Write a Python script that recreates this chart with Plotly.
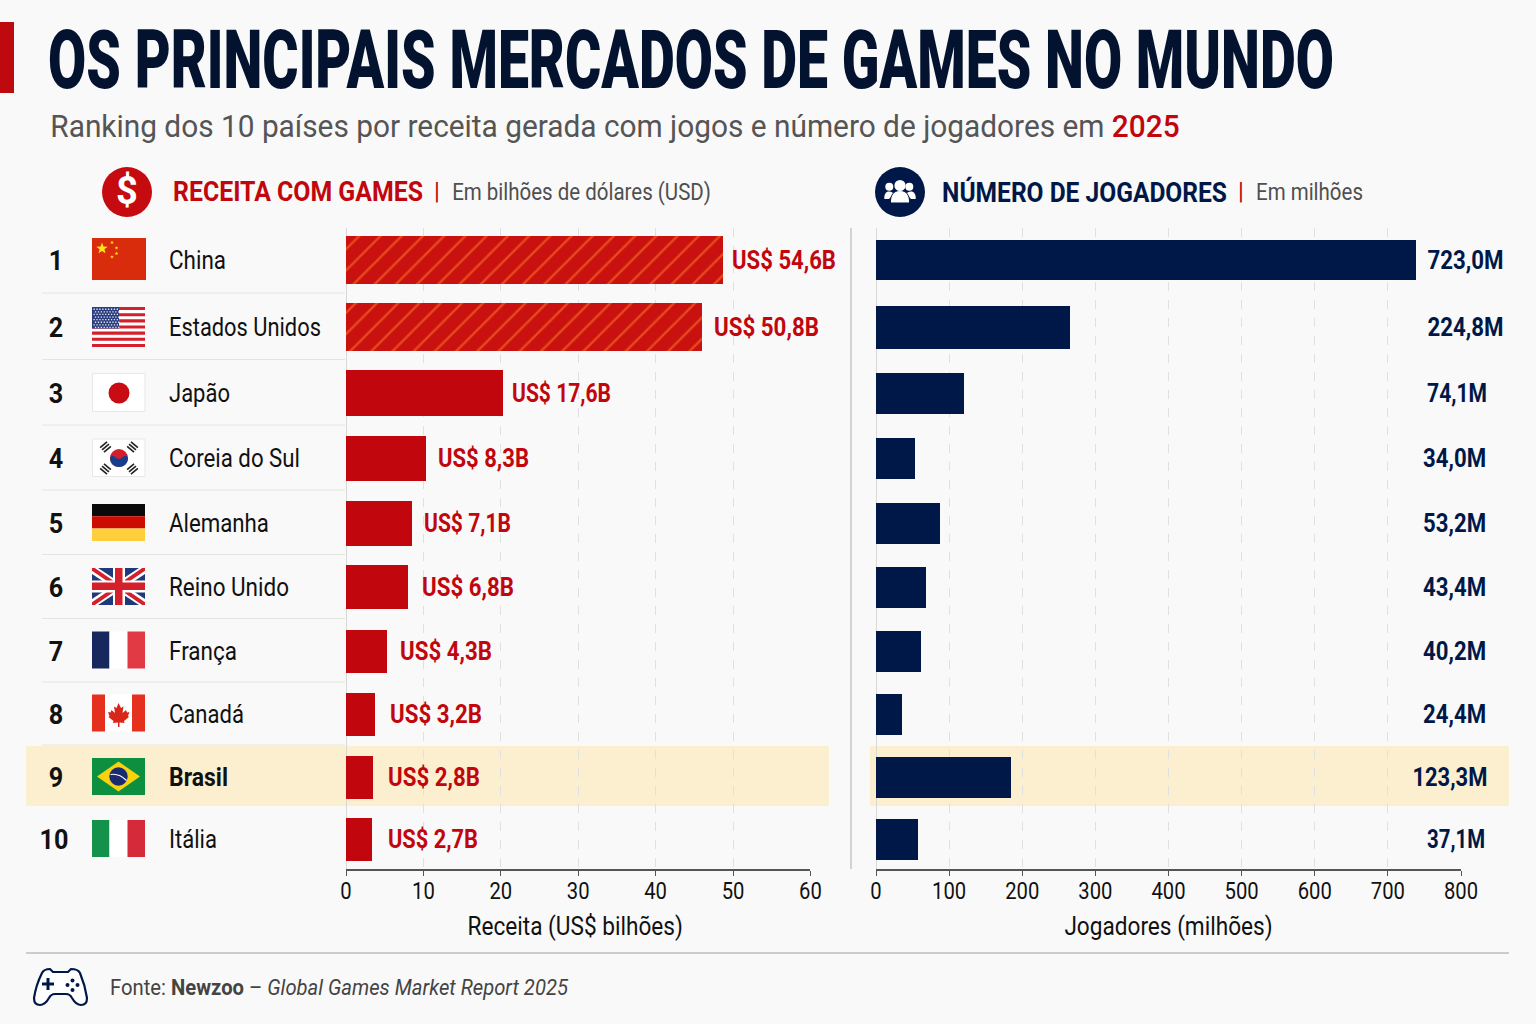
#!/usr/bin/env python3
import json
import math
import plotly.graph_objects as go

W, H = 1536, 1024
FONT = "Roboto"
RED = "#C1070D"
NAVY = "#001848"
GRAY = "#4F4F4F"
INK = "#111111"

ranks = ["1", "2", "3", "4", "5", "6", "7", "8", "9", "10"]
countries = ["China", "Estados Unidos", "Japão", "Coreia do Sul", "Alemanha",
             "Reino Unido", "França", "Canadá", "Brasil", "Itália"]
# bar lengths as drawn in the picture (they do not follow the printed labels)
revenue_bars = [48.7, 46.0, 20.3, 10.3, 8.5, 7.95, 5.36, 3.8, 3.5, 3.36]
players_bars = [739, 265, 120, 54, 88, 68, 62, 36, 184, 58]
revenue_labels = ["US$ 54,6B", "US$ 50,8B", "US$ 17,6B", "US$ 8,3B", "US$ 7,1B",
                  "US$ 6,8B", "US$ 4,3B", "US$ 3,2B", "US$ 2,8B", "US$ 2,7B"]
players_labels = ["723,0M", "224,8M", "74,1M", "34,0M", "53,2M",
                  "43,4M", "40,2M", "24,4M", "123,3M", "37,1M"]
revenue_ticks = [0, 10, 20, 30, 40, 50, 60]
players_ticks = [0, 100, 200, 300, 400, 500, 600, 700, 800]

# row geometry, in page pixels: the rows get slightly tighter going down
row_pitch = [67, 66, 65, 65, 64, 64, 63, 63, 62]
row_y = [260]
for step in row_pitch:
    row_y.append(row_y[-1] + step)
revenue_h = [48, 48, 46, 45, 45, 44, 43, 43, 43, 43]
players_h = [40, 43, 41, 41, 41, 41, 41, 41, 41, 41]
revenue_gap = [9, 12, 9, 12, 12, 14, 13, 15, 15, 16]
players_right = [1503, 1503, 1487, 1486, 1486, 1486, 1486, 1486, 1487, 1485]
# widths of the condensed labels, in page pixels
country_w = [57, 152, 61, 131, 100, 120, 68, 75, 59, 48]
revenue_w = [104, 105, 99, 91, 87, 92, 92, 92, 92, 90]
players_w = [76, 76, 60, 63, 63, 63, 63, 63, 75, 58]
BRASIL = countries.index("Brasil")

shapes = []
annotations = []
squeeze = []


def px(x):
    return x / W


def py(y):
    return 1 - y / H


def paper_path(d):
    out = []
    is_x = True
    for tok in d.split():
        if tok.isalpha():
            out.append(tok)
            is_x = True
        else:
            out.append(f"{px(float(tok)) if is_x else py(float(tok)):.5f}")
            is_x = not is_x
    return " ".join(out)


def rect(x0, y0, x1, y1, color, line=None):
    shapes.append(dict(type="rect", xref="paper", yref="paper", layer="below",
                       x0=px(x0), x1=px(x1), y0=py(y0), y1=py(y1), fillcolor=color,
                       line=dict(color=line or color, width=1 if line else 0)))


def circle(cx, cy, r, color, above=False):
    shapes.append(dict(type="circle", xref="paper", yref="paper", layer="above" if above else "below",
                       x0=px(cx - r), x1=px(cx + r), y0=py(cy + r), y1=py(cy - r),
                       fillcolor=color, line=dict(width=0)))


def path(d, fill=None, line=None, width=0):
    shapes.append(dict(type="path", xref="paper", yref="paper", layer="below", path=paper_path(d),
                       fillcolor=fill or "rgba(0,0,0,0)",
                       line=dict(color=line or "rgba(0,0,0,0)", width=width)))


def poly(points, color):
    d = "M " + " L ".join(f"{x} {y}" for x, y in points) + " Z"
    path(d, fill=color)


def hline(x0, x1, y, color, width=1, dash=None):
    shapes.append(dict(type="line", xref="paper", yref="paper", layer="below",
                       x0=px(x0), x1=px(x1), y0=py(y), y1=py(y), line=dict(color=color, width=width, dash=dash)))


def seg(x0, y0, x1, y1, color, width=1):
    shapes.append(dict(type="line", xref="paper", yref="paper", layer="below",
                       x0=px(x0), x1=px(x1), y0=py(y0), y1=py(y1), line=dict(color=color, width=width)))


def star(cx, cy, r, color):
    pts = []
    for k in range(10):
        rad = r if k % 2 == 0 else r * 0.42
        a = -math.pi / 2 + k * math.pi / 5
        pts.append((round(cx + rad * math.cos(a), 2), round(cy + rad * math.sin(a), 2)))
    poly(pts, color)


def label(text, x, y, size, color=INK, anchor="left", weight=400, fit=0.86, family=FONT,
          xref="paper", yref="paper", xshift=0):
    # fit: below 2 it is a width ratio, above that a width in pixels (applied in the page script)
    annotations.append(dict(text=text, x=px(x) if xref == "paper" else x, y=py(y) if yref == "paper" else y,
                            xref=xref, yref=yref, xanchor=anchor, yanchor="middle", showarrow=False, xshift=xshift,
                            borderpad=0, borderwidth=0,
                            font=dict(family=family, size=size, color=color, weight=weight)))
    squeeze.append(dict(fit=fit, anchor=anchor))


def flags():
    x0, x1 = 92, 145
    # China
    y = row_y[0]
    t, b = y - 22, y + 20
    rect(x0, t, x1 + 1, b, "#D92C0C")
    star(102, 248.5, 6, "#FFE11A")
    for sx, sy in [(112, 242.5), (116.5, 248), (116.5, 253.5), (112, 257)]:
        star(sx, sy, 2, "#FFE11A")
    # Estados Unidos
    t, b = row_y[1] - 20, row_y[1] + 20
    rect(x0, t, x1, b, "#FFFFFF")
    for k in range(0, 13, 2):
        rect(x0, t + k * 40 / 13, x1, t + (k + 1) * 40 / 13, "#D3202B")
    rect(x0, t, 119, t + 21.5, "#2B3F80")
    dots = []
    for r_ in range(8):
        for c_ in range(9):
            dx = 93.5 + c_ * 2.9 + (1.4 if r_ % 2 else 0)
            dy = t + 1.6 + r_ * 2.6
            dots.append(f"M {dx} {dy} L {dx + 1.3} {dy} L {dx + 1.3} {dy + 1.3} L {dx} {dy + 1.3} Z")
    path(" ".join(dots), fill="#E6E9F5")
    # Japão
    t, b = row_y[2] - 19.5, row_y[2] + 18.5
    rect(x0 + 0.5, t, x1, b, "#FFFFFF", line="#E8E8E8")
    circle(119, row_y[2], 10.5, "#C90B14")
    # Coreia do Sul
    yc = row_y[3]
    t, b = yc - 19, yc + 18.5
    rect(x0 + 0.5, t, x1, b, "#FFFFFF", line="#E8E8E8")
    circle(119, yc, 9, "#D0202E")
    path(f"M 110 {yc} Q 112 {yc - 4} 115 {yc - 1} Q 119 {yc + 3} 123 {yc - 1} Q 126 {yc - 4} 128 {yc} "
         f"C 128 {yc + 12} 110 {yc + 12} 110 {yc} Z", fill="#173E8C")
    for sx, sy in [(-1, -1), (1, -1), (-1, 1), (1, 1)]:
        cx, cy = 119 + sx * 13.5, yc + sy * 11
        ux, uy = sx * 0.64, sy * 0.77
        nx, ny = -uy, ux
        for k in (-3, 0, 3):
            seg(cx + ux * k + nx * 4.5, cy + uy * k + ny * 4.5, cx + ux * k - nx * 4.5, cy + uy * k - ny * 4.5,
                "#222222", 1.6)
    # Alemanha
    t, b = row_y[4] - 19, row_y[4] + 18
    rect(x0, t, x1, t + 12.3, "#0A0A0A")
    rect(x0, t + 12.3, x1, t + 24.6, "#CC0C00")
    rect(x0, t + 24.6, x1, b, "#FFCE3D")
    # Reino Unido
    t, b = row_y[5] - 19, row_y[5] + 18
    rect(x0, t, x1, b, "#1E3A7B")
    for d, color in [(6, "#FFFFFF"), (2.8, "#D3202B")]:
        poly([(x0, t + d), (x0, t), (x0 + d, t), (x1, b - d), (x1, b), (x1 - d, b)], color)
        poly([(x1 - d, t), (x1, t), (x1, t + d), (x0 + d, b), (x0, b), (x0, b - d)], color)
    rect(113, t, 125, b, "#FFFFFF")
    rect(x0, row_y[5] - 6.5, x1, row_y[5] + 5.5, "#FFFFFF")
    rect(115, t, 122.5, b, "#D3202B")
    rect(x0, row_y[5] - 4.5, x1, row_y[5] + 3, "#D3202B")
    # França
    t, b = row_y[6] - 19.5, row_y[6] + 17.5
    rect(x0, t, 109.5, b, "#17285F")
    rect(109.5, t, 127.5, b, "#FFFFFF")
    rect(127.5, t, x1, b, "#E23A44")
    # Canadá
    t, b = row_y[7] - 19.5, row_y[7] + 17.5
    rect(x0, t, 105, b, "#E4301C")
    rect(105, t, 132, b, "#FFFFFF")
    rect(132, t, x1, b, "#E4301C")
    poly([(118.5, 703), (121, 708), (123.5, 706.5), (122.5, 713), (126, 710), (127, 712.5), (129.5, 712),
          (128, 716), (129, 717), (124, 721), (124.5, 723), (119.5, 722.5), (119.5, 727), (118, 727),
          (118, 722.5), (113, 723), (113.5, 721), (108.5, 717), (109.5, 716), (108, 712), (110.5, 712.5),
          (111.5, 710), (115, 713), (114, 706.5), (116.5, 708)], "#D9261A")
    # Brasil
    yc = row_y[8] - 0.5
    rect(x0, yc - 18.5, x1, yc + 18.5, "#0C8F3E")
    poly([(97, yc), (118.5, yc - 15), (140, yc), (118.5, yc + 15)], "#F6D20F")
    circle(118.5, yc, 9.2, "#1A2A6E")
    path(f"M 110.5 {yc - 2} Q 119 {yc - 3.5} 126.5 {yc + 4}", line="#FFFFFF", width=1.2)
    # Itália
    t, b = row_y[9] - 19, row_y[9] + 18
    rect(x0, t, 109.5, b, "#14914B")
    rect(109.5, t, 127.5, b, "#FFFFFF")
    rect(127.5, t, x1, b, "#D42A3A")


def icons():
    # dollar badge
    circle(127, 192, 25, "#C50A10")
    label("$", 127, 191, 38, "#FFFFFF", "center", 700, fit=1)
    # players badge
    circle(900, 192, 25, NAVY)
    for cx, cy, r in [(889.3, 186.7, 4), (909.3, 186.7, 4)]:
        circle(cx, cy, r, "#FFFFFF")
    path("M 884.3 199 C 884 194 886 191.5 889 191.5 C 891.5 191.5 893 192.5 893.5 194 L 889 199 Z", fill="#FFFFFF")
    path("M 915.7 199 C 916 194 914 191.5 911 191.5 C 908.5 191.5 907 192.5 906.5 194 L 911 199 Z", fill="#FFFFFF")
    path("M 890.5 203 C 890 195 894 190.5 900 190.5 C 906 190.5 910 195 909.5 203 Z",
         fill="#FFFFFF", line=NAVY, width=1)
    circle(900, 185.5, 5.6, "#FFFFFF")
    # gamepad
    path("M 42 973 Q 44 969 50 969 L 53 972 L 68 972 L 71 969 Q 78 969 80 973 Q 85 985 87 998 Q 87 1005 81 1005 "
         "Q 76 1005 72 998 Q 70 994 66 994 L 55 994 Q 51 994 49 998 Q 45 1005 40 1005 Q 34 1005 34 998 "
         "Q 36 985 42 973 Z", fill="#FFFFFF", line=NAVY, width=2.2)
    rect(46.5, 978, 49.5, 990, NAVY)
    rect(42, 982.5, 54, 985.5, NAVY)
    for cx, cy in [(72.5, 980.5), (67.5, 985), (77.5, 985), (72.5, 990)]:
        circle(cx, cy, 2, NAVY)


def main():
    # page furniture
    rect(0, 22, 14, 93, "#BE0A0F")
    rect(26, 746, 829, 806, "#FCEFCF")
    rect(870, 746, 1509, 806, "#FCEFCF")
    for i in range(8):
        hline(42, 345, (row_y[i] + row_y[i + 1]) / 2 - 0.5, "#E4E4E4", 1)
    seg(851, 228, 851, 869, "#BDBDBD", 1.3)
    hline(26, 1509, 953, "#BDBDBD", 1.3)
    flags()
    icons()

    label("OS PRINCIPAIS MERCADOS DE GAMES NO MUNDO", 48, 60, 82, "#03132F", weight=900, fit=1286)
    label(f"Ranking dos 10 países por receita gerada com jogos e número de jogadores em "
          f"<span style='color:{RED};font-weight:500'>2025</span>", 50, 126, 32, "#555555", fit=1130)
    label("RECEITA COM GAMES", 173, 192, 27, RED, weight=700, fit=250)
    label("|", 437, 191, 24, RED, "center", fit=1)
    label("Em bilhões de dólares (USD)", 452, 192, 24, GRAY, fit=259)
    label("NÚMERO DE JOGADORES", 942, 192, 27, NAVY, weight=700, fit=285)
    label("|", 1241, 191, 24, RED, "center", fit=1)
    label("Em milhões", 1256, 192, 24, GRAY, fit=107)
    label("Fonte: <b>Newzoo</b> – <i>Global Games Market Report 2025</i>", 110, 987, 22, "#444444", fit=458)

    for i in range(10):
        bold = i == BRASIL
        label(ranks[i], 56 if i < 9 else 53.5, row_y[i], 28, INK, "center", 700, fit=0.9)
        label(countries[i], 169, row_y[i], 26, INK, weight=700 if bold else 400, fit=country_w[i])
        label(revenue_labels[i], revenue_bars[i], row_y[i], 25, RED, weight=700, fit=revenue_w[i],
              xref="x", yref="y", xshift=revenue_gap[i])
        label(players_labels[i], players_right[i], row_y[i], 25, NAVY, "right", 700, fit=players_w[i])

    fig = go.Figure()
    fig.add_trace(go.Bar(
        x=revenue_bars, y=row_y, orientation='h', width=revenue_h, xaxis='x', yaxis='y',
        marker=dict(color=RED, line=dict(width=0),
                    pattern=dict(shape=["/", "/"] + [""] * 8, fgcolor="#E8481C", bgcolor="#C9120F",
                                 fgopacity=1, size=15, solidity=0.16)),
        name='Receita', hovertemplate='%{x}<extra></extra>',
    ))
    fig.add_trace(go.Bar(
        x=players_bars, y=row_y, orientation='h', width=players_h, xaxis='x2', yaxis='y2',
        marker=dict(color=NAVY, line=dict(width=0)),
        name='Jogadores', hovertemplate='%{x}<extra></extra>',
    ))

    grid = dict(showgrid=True, gridcolor="#E0E0E0", griddash="dash", gridwidth=1, zeroline=True,
                zerolinecolor="#D8D8D8", zerolinewidth=1, showline=True, linecolor="#555555", linewidth=1.5,
                ticks="outside", ticklen=5, tickcolor="#555555", tickwidth=1.2, ticklabelstandoff=-4,
                tickfont=dict(family=FONT, size=23, color=INK))
    rows = dict(range=[869, 228], domain=[py(869), py(228)], visible=False)
    fig.update_layout(
        width=W, height=H, margin=dict(l=0, r=0, t=0, b=0, pad=0, autoexpand=False), autosize=False,
        paper_bgcolor="#F9F9F9", plot_bgcolor="rgba(0,0,0,0)", showlegend=False, bargap=0,
        font=dict(family=FONT, color=INK),
        xaxis=dict(domain=[px(346), px(810.4)], range=[0, 60], tickvals=revenue_ticks, anchor='y',
                   title=dict(text="Receita (US$ bilhões)", font=dict(family=FONT, size=25, color=INK), standoff=13),
                   **grid),
        xaxis2=dict(domain=[px(876), px(1461)], range=[0, 800], tickvals=players_ticks, anchor='y2',
                    title=dict(text="Jogadores (milhões)", font=dict(family=FONT, size=25, color=INK), standoff=13),
                    **grid),
        yaxis=dict(anchor='x', **rows),
        yaxis2=dict(anchor='x2', **rows),
        shapes=shapes,
        annotations=annotations,
    )

    # Roboto Condensed is not installed: narrow the real text elements in the page instead
    post_script = """
    document.body.style.margin = '0';
    document.documentElement.style.overflow = 'hidden';
    var squeeze = %s;
    function narrow(t, k, anchor, dx) {
        var w = t.getComputedTextLength();
        var ratio = k > 2 ? k / w : k;
        var x = parseFloat(t.getAttribute('x')) || 0;
        var cx = anchor === 'left' ? x - w / 2 : (anchor === 'right' ? x + w / 2 : x);
        var old = t.getAttribute('transform') || '';
        t.setAttribute('transform', old + ' translate(' + (cx + (dx || 0)) + ' 0) scale(' + ratio + ' 1) translate(' + (-cx) + ' 0)');
        return w * (1 - ratio);
    }
    document.querySelectorAll('.annotation').forEach(function (a) {
        var s = squeeze[+a.getAttribute('data-index')];
        var lost = narrow(a.querySelector('text'), s.fit, s.anchor);
        // keep the annotation box on the narrowed text
        var box = a.querySelector('rect');
        if (box) {
            var bx = parseFloat(box.getAttribute('x')) || 0;
            var shift = s.anchor === 'left' ? 0 : (s.anchor === 'right' ? lost : lost / 2);
            box.setAttribute('x', bx + shift);
            box.setAttribute('width', parseFloat(box.getAttribute('width')) - lost);
        }
    });
    document.querySelectorAll('.xtick text, .x2tick text').forEach(function (t) { narrow(t, 0.88, 'center'); });
    document.querySelectorAll('.x2title').forEach(function (t) { narrow(t, 0.905, 'center'); });
    narrow(document.querySelector('.xtitle'), 0.905, 'center', -3);
    """ % json.dumps(squeeze)

    fig.write_html("out.html", post_script=post_script, config=dict(displayModeBar=False))


if __name__ == "__main__":
    main()
